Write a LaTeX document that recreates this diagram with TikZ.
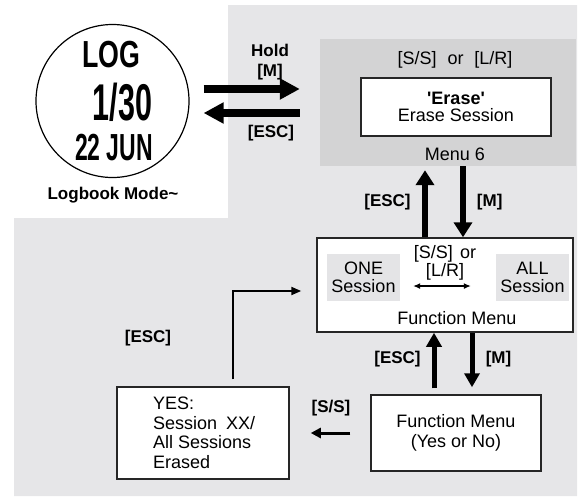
\documentclass[tikz,border=0pt]{standalone}
\usepackage{fontspec}
\setmainfont{Liberation Sans}
\usepackage{graphicx}
\usetikzlibrary{arrows.meta,positioning}
\definecolor{bglight}{RGB}{230,230,232}
\definecolor{menugray}{RGB}{211,211,212}
\definecolor{optgray}{RGB}{228,228,230}

\begin{document}
\begin{tikzpicture}[
    x=1pt, y=-1pt,
    every node/.style={font=\fontsize{18}{19}\selectfont, inner sep=0pt},
    box/.style={rectangle, draw=black!85, line width=1.5pt, fill=white},
    optbox/.style={rectangle, fill=optgray, align=center, minimum width=73pt, minimum height=47pt, font=\fontsize{18}{18}\selectfont},
    keylabel/.style={font=\fontsize{17}{20}\selectfont\bfseries, align=center},
    bigarrow/.style={line width=8pt, -{Triangle[length=20pt,width=20pt]}},
    midarrow/.style={line width=6pt, -{Triangle[length=15pt,width=18pt]}},
    smallarrow/.style={line width=5pt, -{Triangle[length=14pt,width=15pt]}},
    thinarrow/.style={line width=3pt, -{Triangle[length=10pt,width=10pt]}},
    linkarrow/.style={line width=2pt, -{Triangle[length=10pt,width=8pt]}},
    selarrow/.style={line width=1.2pt, {Latex[length=7pt,width=6pt]}-{Latex[length=7pt,width=6pt]}}
]
    \useasboundingbox (0,0) rectangle (578,496);
    % background
    \fill[bglight] (14,218) -- (228,218) -- (228,5) -- (577,5) -- (577,496) -- (14,496) -- cycle;

    % watch face
    \node[circle, draw, line width=1.2pt, fill=white, minimum size=153pt] (logwatch) at (112.5,101) {};
    \node[anchor=base, font=\bfseries\fontsize{37.7}{38}\selectfont] (logtxt) at (111,67) {\scalebox{0.71}[1]{LOG}};
    \node[anchor=base, font=\bfseries\fontsize{51.7}{52}\selectfont] (counttxt) at (122.5,120) {\scalebox{0.59}[1]{1/30}};
    \node[anchor=base, font=\bfseries\fontsize{37.7}{38}\selectfont] (datetxt) at (114,160) {\scalebox{0.61}[1]{22 JUN}};
    \node[keylabel] (modelabel) at (113,195) {Logbook Mode\textasciitilde};

    % menu 6
    \node[fill=menugray, minimum width=256pt, minimum height=127pt] (menusix) at (448,102.5) {};
    \node (menusel) at (455,60) {[S/S]\hspace{0.6em}or\hspace{0.6em}[L/R]};
    \node[box, minimum width=190pt, minimum height=58pt, align=center, font=\fontsize{18}{17}\selectfont] (erasebox) at (456,107) {\textbf{\textquotesingle Erase\textquotesingle}\\Erase Session};
    \node (menusixlabel) at (455,154) {Menu 6};

    % function menu
    \node[box, minimum width=256pt, minimum height=94pt] (funcmenu) at (445,285) {};
    \node[optbox] (onebox) at (363.5,277.5) {ONE\\Session};
    \node[optbox] (allbox) at (532.5,277.5) {ALL\\Session};
    \node[align=center, font=\fontsize{18}{18}\selectfont] (funcsel) at (445,263) {[S/S]\hspace{0.4em}or\\{}[L/R]};
    \node (funclabel) at (457,318) {Function Menu};

    % confirm
    \node[box, minimum width=170pt, minimum height=76pt, align=center, font=\fontsize{18}{20}\selectfont] (yesno) at (456,433) {Function Menu\\(Yes or No)};
    \node[box, minimum width=172pt, minimum height=92pt] (yesbox) at (203,433) {};
    \node[anchor=west, align=left, font=\fontsize{18}{19.5}\selectfont] (yestxt) at (153,433) {YES:\\Session\hspace{0.5em}XX/\\All Sessions\\Erased};

    % key labels
    \node[keylabel] (holdlabel) at (270,62) {Hold\\{}[M]};
    \node[keylabel] (esctop) at (271,133) {[ESC]};
    \node[keylabel] (escmid) at (387.5,202) {[ESC]};
    \node[keylabel] (mmid) at (489.7,202) {[M]};
    \node[keylabel] (esclow) at (397.5,359) {[ESC]};
    \node[keylabel] (mlow) at (498.5,359) {[M]};
    \node[keylabel] (sslabel) at (331,408) {[S/S]};
    \node[keylabel] (escleft) at (148,338) {[ESC]};

    % connectors
    \draw[bigarrow, shorten <=14pt, shorten >=20pt] ([yshift=12pt]logwatch.east) -- ([yshift=13.5pt]menusix.west);
    \draw[bigarrow, shorten <=20pt, shorten >=14pt] ([yshift=-10.5pt]menusix.west) -- ([yshift=-12pt]logwatch.east);
    \draw[midarrow, shorten >=4pt] ([xshift=-20pt]funcmenu.north) -- ([xshift=-23pt]menusix.south);
    \draw[midarrow] ([xshift=15pt]menusix.south) -- ([xshift=18pt]funcmenu.north);
    \draw[smallarrow, shorten <=6pt] ([xshift=-22pt]yesno.north) -- ([xshift=-11pt]funcmenu.south);
    \draw[smallarrow, shorten >=7pt] ([xshift=27pt]funcmenu.south) -- ([xshift=16pt]yesno.north);
    \draw[thinarrow, shorten <=20pt, shorten >=21pt] (yesno.west) -- (yesbox.east);
    \draw[linkarrow] ([xshift=30pt,yshift=7pt]yesbox.north) |- ([xshift=-15pt,yshift=-6pt]funcmenu.west);
    \draw[selarrow, shorten <=13pt, shorten >=25pt] ([yshift=-8.5pt]onebox.east) -- ([yshift=-8.5pt]allbox.west);
\end{tikzpicture}
\end{document}
